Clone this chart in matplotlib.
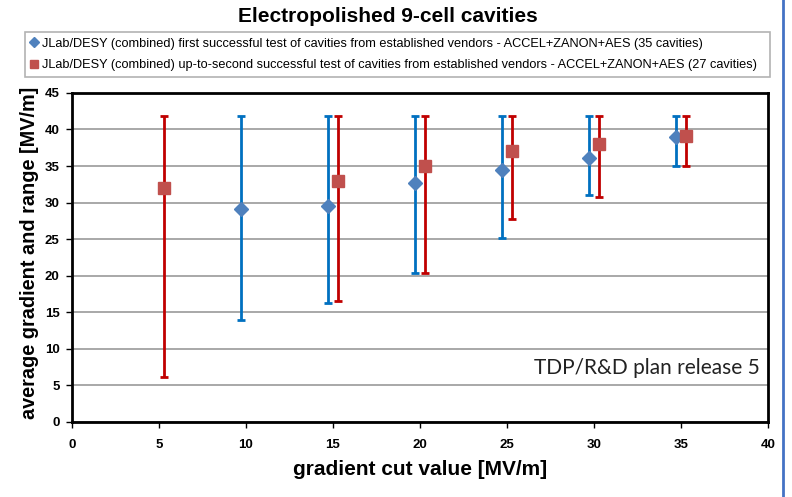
import matplotlib
matplotlib.use("Agg")
import matplotlib.pyplot as plt
from matplotlib.lines import Line2D
import numpy as np

title = "Electropolished 9-cell cavities"
label_first = "JLab/DESY (combined) first successful test of cavities from established vendors - ACCEL+ZANON+AES (35 cavities)"
label_second = "JLab/DESY (combined) up-to-second successful test of cavities from established vendors - ACCEL+ZANON+AES (27 cavities)"

# first successful test
x_first = [9.7, 14.7, 19.7, 24.7, 29.7, 34.7]
avg_first = [29.1, 29.6, 32.7, 34.5, 36.1, 39.0]
min_first = [14.0, 16.3, 20.4, 25.1, 31.1, 35.0]
max_first = [41.8, 41.8, 41.8, 41.8, 41.8, 41.8]

# up-to-second successful test
x_second = [5.3, 15.3, 20.3, 25.3, 30.3, 35.3]
avg_second = [32.0, 33.0, 35.0, 37.0, 38.0, 39.1]
min_second = [6.1, 16.5, 20.4, 27.7, 30.8, 35.0]
max_second = [41.8, 41.8, 41.8, 41.8, 41.8, 41.8]

plt.rcParams["font.family"] = ["Liberation Sans", "DejaVu Sans"]

fig = plt.figure(figsize=(7.92, 4.97), dpi=100)
ax = fig.add_axes([0.0909, 0.151, 0.8788, 0.662])

err1 = [np.subtract(avg_first, min_first), np.subtract(max_first, avg_first)]
err2 = [np.subtract(avg_second, min_second), np.subtract(max_second, avg_second)]
ax.errorbar(x_first, avg_first, yerr=err1, fmt="none", ecolor="#0070C0",
            elinewidth=2, capsize=3, capthick=2, zorder=3)
ax.errorbar(x_second, avg_second, yerr=err2, fmt="none", ecolor="#C00000",
            elinewidth=2, capsize=3, capthick=2, zorder=3)
ax.plot(x_first, avg_first, "D", color="#4F81BD", markersize=7, zorder=4)
ax.plot(x_second, avg_second, "s", color="#C0504D", markersize=8, zorder=4)

ax.set_xlim(0, 40)
ax.set_ylim(0, 45)
ax.set_xticks(range(0, 41, 5))
ax.set_yticks(range(0, 46, 5))
ax.grid(True, axis="y", color="#999999", linewidth=1.2)
ax.set_axisbelow(True)
for s in ax.spines.values():
    s.set_linewidth(2)
    s.set_color("black")
ax.tick_params(direction="out", length=4, width=1, labelsize=9.5)
ax.tick_params(axis="x", pad=8)
ax.tick_params(axis="y", pad=5)
for lab in ax.get_xticklabels() + ax.get_yticklabels():
    lab.set_fontweight("bold")

ax.set_xlabel("gradient cut value [MV/m]", fontsize=15, fontweight="bold", labelpad=7)
ax.set_ylabel("average gradient and range [MV/m]", fontsize=14.3, fontweight="bold")
ax.yaxis.set_label_coords(-0.047, 0.515)

ax.text(39.5, 7.4, "TDP/R&D plan release 5", ha="right", va="center",
        fontsize=15, family=["Lato", "DejaVu Sans"], color="#222222")

fig.text(0.49, 0.966, title, ha="center", va="center", fontsize=15, fontweight="bold")

handles = [
    Line2D([], [], marker="D", color="#4F81BD", linestyle="none", markersize=5),
    Line2D([], [], marker="s", color="#C0504D", linestyle="none", markersize=6),
]
leg = fig.legend(handles, [label_first, label_second], loc="upper left",
                 bbox_to_anchor=(0.031, 0.835, 0.941, 0.101), mode="expand",
                 fontsize=9.2, frameon=True, fancybox=False, handlelength=0.6,
                 handletextpad=0.3, borderpad=0.45, labelspacing=0.75, borderaxespad=0)
leg.get_frame().set_edgecolor("#a0a0a0")
leg.get_frame().set_linewidth(1.2)

# blue border line at right edge of the screenshot
fig.add_artist(Line2D([0.989, 0.989], [0, 1], color="#4472C4", linewidth=2,
                      transform=fig.transFigure))

fig.savefig("out.png", dpi=100)
